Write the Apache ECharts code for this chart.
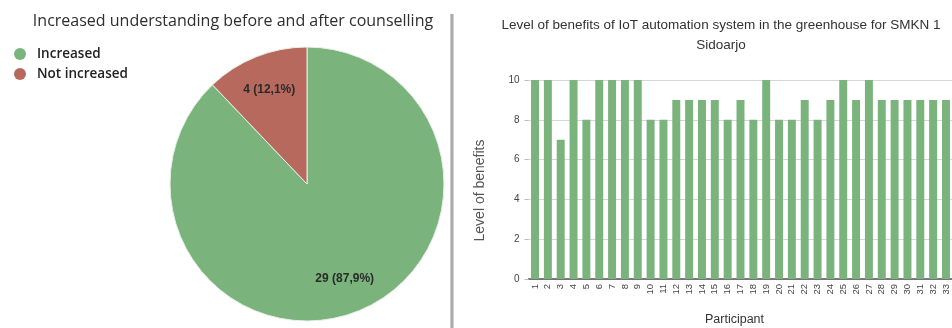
<!DOCTYPE html>
<html><head><meta charset="utf-8">
<script src="https://cdn.jsdelivr.net/npm/echarts@6/dist/echarts.min.js"></script>
<style>html,body{margin:0;padding:0;background:#fff}#c{width:952px;height:328px}</style>
</head><body><div id="c"></div>
<script>
const pieTitle = 'Increased understanding before and after counselling';
const pieNames = ['Increased', 'Not increased'];
const pieValues = [29, 4];
const pieLabels = ['29 (87,9%)', '4 (12,1%)'];
const barTitle = 'Level of benefits of IoT automation system in the greenhouse for SMKN 1\nSidoarjo';
const participants = ['1','2','3','4','5','6','7','8','9','10','11','12','13','14','15','16','17','18','19','20','21','22','23','24','25','26','27','28','29','30','31','32','33'];
const benefits = [10,10,7,10,8,10,10,10,10,8,8,9,9,9,9,8,9,8,10,8,8,9,8,9,10,9,10,9,9,9,9,9,9];
const yTicks = [0,2,4,6,8,10];

const GREEN = '#7ab47c', RED = '#b8695e';
const chart = echarts.init(document.getElementById('c'), null, {renderer:'canvas'});
const pieData = pieNames.map((n,i)=>({name:n, value:pieValues[i], label:pieLabels[i]}));
chart.setOption({
  animation:false,
  backgroundColor:'#ffffff',
  color:[GREEN, RED],
  title:[
    {text:pieTitle, left:228, top:8, textAlign:'center',
     textStyle:{fontFamily:'Open Sans', fontSize:16, fontWeight:500, color:'#2e2e2e'}},
    {text:barTitle, left:716, top:10, textAlign:'center',
     textStyle:{fontFamily:'Liberation Sans', fontSize:13.5, fontWeight:'normal', color:'#333', lineHeight:20}}
  ],
  legend:{orient:'vertical', left:9, top:42, icon:'circle', itemWidth:12, itemHeight:12, itemGap:6,
    data:pieNames, itemStyle:{borderWidth:0},
    textStyle:{fontFamily:'Open Sans', fontSize:13.5, color:'#222', fontWeight:600, padding:[0,0,0,6]}},
  grid:{left:528.6, right:-0.4, top:80, bottom:49, containLabel:false, outerBoundsMode:'none'},
  xAxis:{type:'category', data:participants,
    name:'Participant', nameLocation:'middle', nameGap:34,
    nameTextStyle:{fontFamily:'Liberation Sans', fontSize:12.5, color:'#333', padding:[0,12,0,0]},
    axisLine:{lineStyle:{color:'#555', width:1.5}}, axisTick:{show:false},
    axisLabel:{rotate:90, fontSize:9.5, color:'#444', margin:5, interval:0, fontFamily:'Liberation Sans'}},
  yAxis:{type:'value', min:0, max:10, interval:2,
    name:'Level of benefits', nameLocation:'middle', nameGap:41,
    nameTextStyle:{fontFamily:'Liberation Sans', fontSize:14, color:'#555', padding:[0,22,0,0]},
    axisLine:{show:false}, axisTick:{show:true, length:4, lineStyle:{color:'#bbb'}},
    axisLabel:{fontSize:10, color:'#444', margin:9, fontFamily:'Liberation Sans',
      formatter:v=>yTicks.includes(v)?String(v):''},
    splitLine:{lineStyle:{color:'#d6d6d6', width:1}}},
  graphic:[
    {type:'rect', shape:{x:450, y:14, width:4, height:314}, silent:true,
     style:{fill:new echarts.graphic.LinearGradient(0,0,1,0,[{offset:0,color:'#d8d8d8'},{offset:0.5,color:'#9a9a9a'},{offset:1,color:'#e4e4e4'}])}}
  ],
  series:[
    {type:'pie', center:[307,184], radius:[0,137], startAngle:90, clockwise:true,
     data:pieData, label:{show:false}, labelLine:{show:false},
     itemStyle:{borderColor:'#e8efe8', borderWidth:1}, emphasis:{disabled:true}},
    {type:'pie', center:[307,184], radius:[60,137], startAngle:90, clockwise:true,
     data:pieData, legendHoverLink:false,
     itemStyle:{color:'rgba(0,0,0,0)'}, emphasis:{disabled:true},
     label:{show:true, position:'inside', formatter:p=>p.data.label,
       fontFamily:'Liberation Sans', fontSize:12, fontWeight:'bold', color:'#2a2a2a'},
     labelLine:{show:false}},
    {type:'bar', data:benefits, barCategoryGap:'38%',
     itemStyle:{color:GREEN}, emphasis:{disabled:true}}
  ]
});
</script></body></html>
